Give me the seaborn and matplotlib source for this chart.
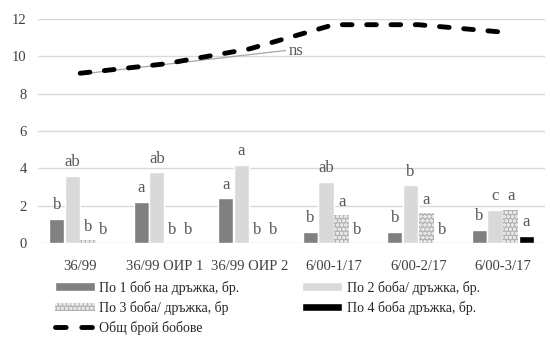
import matplotlib
matplotlib.use("Agg")
import matplotlib.pyplot as plt
import pandas as pd
import seaborn as sns
from matplotlib.lines import Line2D
from matplotlib.patches import Patch

categories = ["36/99", "36/99 ОИР 1", "36/99 ОИР 2", "6/00-1/17", "6/00-2/17", "6/00-3/17"]
series_names = ["По 1 боб на дръжка, бр.", "По 2 боба/ дръжка, бр.",
                "По 3 боба/ дръжка, бр", "По 4 боба дръжка, бр."]
bean1 = [1.3, 2.2, 2.4, 0.6, 0.6, 0.7]
bean2 = [3.6, 3.8, 4.2, 3.3, 3.1, 1.8]
bean3 = [0.15, 0.0, 0.0, 1.5, 1.6, 1.8]
bean4 = [0.0, 0.0, 0.0, 0.0, 0.0, 0.4]
total = [9.1, 9.6, 10.4, 11.7, 11.7, 11.3]
total_name = "Общ брой бобове"
letters1 = ["b", "a", "a", "b", "b", "b"]
letters2 = ["ab", "ab", "a", "ab", "b", "c"]
letters3 = ["b", "b", "b", "a", "a", "a"]
letters4 = ["b", "b", "b", "b", "b", "a"]

sns.set_style("white")
plt.rcParams["font.family"] = ["Liberation Serif", "DejaVu Serif"]

rows = []
for name, vals in zip(series_names, [bean1, bean2, bean3, bean4]):
    for c, v in zip(categories, vals):
        rows.append({"cat": c, "series": name, "value": v})
df = pd.DataFrame(rows)

colors = ["#808080", "#d9d9d9", "#b3b3b3", "#000000"]

fig = plt.figure(figsize=(5.5, 3.41), dpi=100)
ax = fig.add_axes([0.069, 0.287, 0.922, 0.657])

sns.barplot(data=df, x="cat", y="value", hue="series", palette=colors,
            width=0.74, gap=0.03, saturation=1, legend=False, ax=ax, errorbar=None)

# texture-like fill for the 3-bean series
for p in ax.containers[2]:
    p.set_hatch("oooo")
    p.set_edgecolor("#e6e6e6")
    p.set_linewidth(0)

tot_df = pd.DataFrame({"cat": categories, "total": total})
sns.lineplot(data=tot_df, x="cat", y="total", color="black", linewidth=3.5,
             dashes=False, ax=ax, sort=False)
ln = ax.lines[-1]
ln.set_dashes((2.0, 3.0))
ln.set_dash_capstyle("round")

# thin trend leader + ns
ax.plot([0, 2.43], [9.05, 10.32], color="#a6a6a6", linewidth=0.9, zorder=1)
ax.text(2.47, 10.3, "ns", fontsize=12, color="#595959", va="center", ha="left")

all_letters = [letters1, letters2, letters3, letters4]
all_vals = [bean1, bean2, bean3, bean4]
for k, cont in enumerate(ax.containers[:4]):
    for i, p in enumerate(cont):
        xc = p.get_x() + p.get_width() / 2
        ax.text(xc, all_vals[k][i] + 0.3, all_letters[k][i], ha="center",
                va="bottom", fontsize=12, color="#595959")

ax.set_ylim(0, 12)
ax.set_xlim(-0.5, 5.5)
ax.set_yticks([0, 2, 4, 6, 8, 10, 12])
ax.yaxis.grid(True, color="#d9d9d9", linewidth=1)
ax.set_axisbelow(True)
for s in ax.spines.values():
    s.set_visible(False)
ax.set_xlabel("")
ax.set_ylabel("")
ax.tick_params(axis="both", length=0, labelsize=10.5, colors="#404040")
ax.tick_params(axis="x", pad=12)
ax.tick_params(axis="y", pad=8)

handles = [
    Patch(facecolor=colors[0], label=series_names[0]),
    Patch(facecolor=colors[2], hatch="oooo", edgecolor="#e6e6e6", linewidth=0, label=series_names[2]),
    Line2D([0], [0], color="black", linewidth=3.5, linestyle=(0, (2.2, 3.2)),
           dash_capstyle="round", label=total_name),
    Patch(facecolor=colors[1], label=series_names[1]),
    Patch(facecolor=colors[3], label=series_names[3]),
]
fig.legend(handles=handles, ncol=2, loc="upper left", bbox_to_anchor=(0.1, 0.177),
           frameon=False, fontsize=10, handlelength=2.9, handleheight=0.6,
           labelspacing=0.45, columnspacing=4.5, handletextpad=0.3,
           borderaxespad=0, borderpad=0)

fig.savefig("out.png", dpi=100)
